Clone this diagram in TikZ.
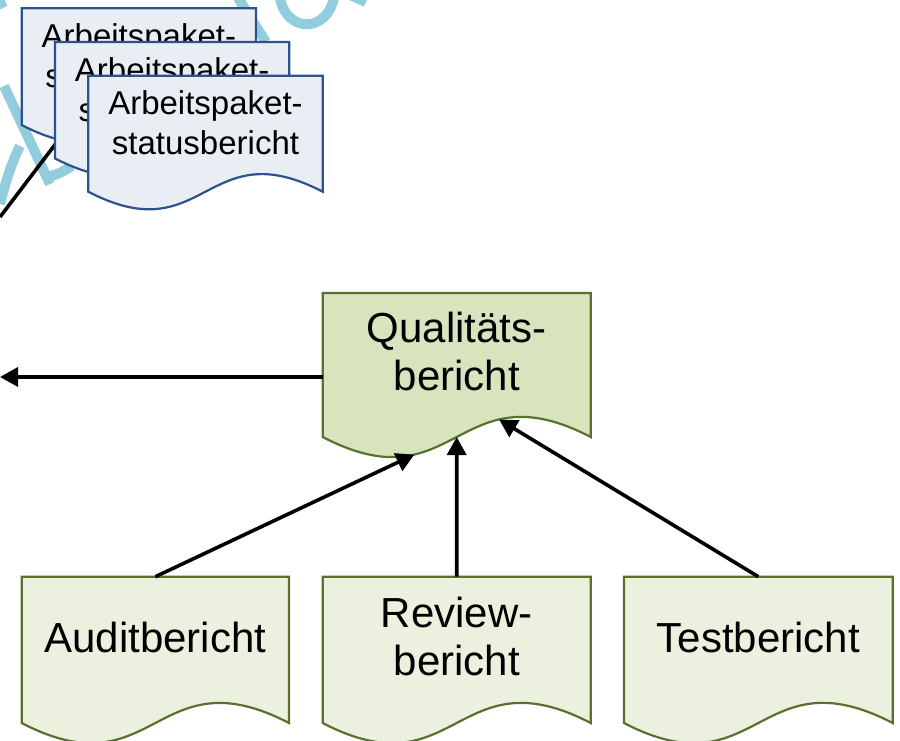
\documentclass[tikz,border=0pt]{standalone}
\usepackage{fontspec}
\setmainfont{Liberation Sans}
\usetikzlibrary{arrows.meta}

\definecolor{wmblue}{RGB}{146,205,221}
\definecolor{apfill}{RGB}{233,237,244}
\definecolor{apline}{RGB}{47,82,143}
\definecolor{qbfill}{RGB}{215,228,189}
\definecolor{qbline}{RGB}{90,112,45}
\definecolor{tbfill}{RGB}{235,241,222}

% document shape: style, name, left, top, right, corner height
\newcommand{\docshape}[6]{%
  \draw[#1] (#3,#4) -- (#5,#4) -- (#5,#6)
    .. controls ({(#3+#5)/2},{#6-0.26*(#5-#3)}) and ({(#3+#5)/2},{#6+0.26*(#5-#3)}) .. (#3,#6)
    coordinate[pos=0.3] (#2-crest) coordinate[pos=0.5] (#2-mid) coordinate[pos=0.7] (#2-trough) -- cycle;
  \coordinate (#2-top) at ({(#3+#5)/2},#4);}

\begin{document}
\begin{tikzpicture}[x=1pt, y=-1pt,
    wm/.style={draw=wmblue, line width=10pt},
    apdoc/.style={draw=apline, fill=apfill, line width=2.2pt},
    qbdoc/.style={draw=qbline, fill=qbfill, line width=2.2pt},
    tbdoc/.style={draw=qbline, fill=tbfill, line width=2.2pt},
    smalltext/.style={align=center, inner sep=0pt, font=\fontsize{33}{40}\selectfont},
    bigtext/.style={align=center, inner sep=0pt, font=\fontsize{42}{48}\selectfont},
    arr/.style={line width=3.6pt, -{Triangle[length=18pt,width=19pt]}}]
    \useasboundingbox (0,0) rectangle (900,741);
    \clip (0,0) rectangle (900,741);

    % watermark
    \draw[wm] (-2,-2) -- (3,8);
    \draw[wm] (4,86) -- (50,184);
    \draw[wm] (0,204) .. controls (6,180) and (12,162) .. (20,146);
    \draw[wm] (48,176) .. controls (55,176) and (62,172) .. (72,166);
    \draw[wm] (238,-2) -- (266,42);
    \draw[wm] (280,-2) .. controls (286,32) and (326,34) .. (334,-2);
    \draw[wm] (352,-4) -- (366,2);

    \docshape{apdoc}{ap1}{21.7}{8.3}{256}{125}
    \node[smalltext] (ap1txt) at (138.9,55.8) {Arbeitspaket-\\statusbericht};
    \coordinate (stackin) at (57,142);
    \coordinate (outtop) at (0,217);
    \draw[line width=3.6pt] (outtop) -- (stackin);
    \docshape{apdoc}{ap2}{55}{42}{289.3}{158.4}
    \node[smalltext] (ap2txt) at (172.2,89.5) {Arbeitspaket-\\statusbericht};
    \docshape{apdoc}{ap3}{88.3}{75.7}{322.7}{191.7}
    \node[smalltext] (ap3txt) at (205.5,123.2) {Arbeitspaket-\\statusbericht};

    \docshape{qbdoc}{qb}{322.7}{293}{590.7}{437}
    \node[bigtext] (qbtxt) at (456.7,351) {Qualitäts-\\bericht};
    \coordinate (qbwest) at (322.7,377);
    \coordinate (outleft) at (0,377);
    \draw[arr] (qbwest) -- (outleft);

    \docshape{tbdoc}{ab}{21.7}{576.7}{289}{723}
    \node[bigtext] (abtxt) at (155.3,637) {Auditbericht};
    \docshape{tbdoc}{rb}{322.7}{576.7}{590.7}{723}
    \node[bigtext] (rbtxt) at (456.7,636) {Review-\\bericht};
    \docshape{tbdoc}{tb}{624}{576.7}{892.7}{723}
    \node[bigtext] (tbtxt) at (758.3,637) {Testbericht};

    \draw[arr] (ab-top) -- (qb-trough);
    \draw[arr] (rb-top) -- (qb-mid);
    \draw[arr] (tb-top) -- (qb-crest);
\end{tikzpicture}
\end{document}
